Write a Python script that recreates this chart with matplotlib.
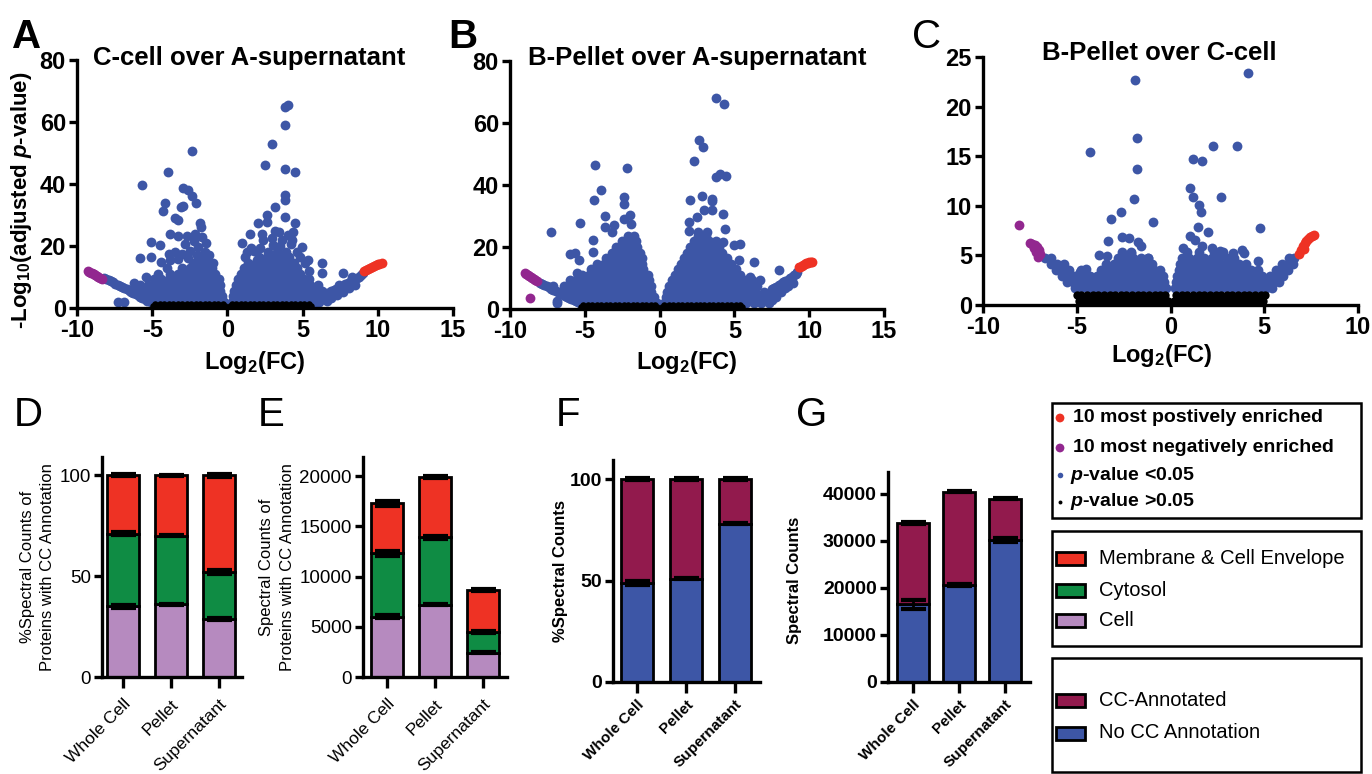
import matplotlib
matplotlib.use("Agg")
import numpy as np
import matplotlib.pyplot as plt
from matplotlib.patches import Rectangle

plt.rcParams['font.family'] = ['Liberation Sans', 'DejaVu Sans']
plt.rcParams['mathtext.fontset'] = 'custom'
plt.rcParams['mathtext.rm'] = 'Liberation Sans:bold'
plt.rcParams['mathtext.it'] = 'Liberation Sans:italic:bold'
plt.rcParams['mathtext.bf'] = 'Liberation Sans:bold'
plt.rcParams['axes.unicode_minus'] = False

BLUE = "#3d56a6"
RED = "#ee3224"
PURPLE = "#92278f"
GREEN = "#0f8c44"
LAV = "#b68abf"
MAROON = "#921a4d"

# ---------------- volcano data ----------------
# dense part of the clouds, stored as rows: (y, [x, ...])
a_rows = [
    (2.0, [-7.3, -6.9, -5.1, -4.6, -4.1, -3.6, -3.1, -2.6, -2.1, -1.6, -1.1, -0.6, -0.2,
           0.3, 0.8, 1.3, 1.8, 2.3, 2.8, 3.3, 3.8, 4.3, 4.8, 5.3, 5.8, 6.1]),
    (3.8, [-5.7, -5.3, -4.8, -4.3, -3.8, -3.3, -2.8, -2.3, -1.8, -1.3, -0.8, -0.35,
           0.35, 0.6, 1.05, 1.55, 2.05, 2.55, 3.05, 3.55, 4.05, 4.55, 5.05, 5.55, 6.05, 6.5]),
    (5.6, [-6.5, -6.0, -5.5, -5.0, -4.5, -4.0, -3.5, -3.0, -2.5, -2.0, -1.5, -1.0, -0.5,
           0.45, 0.8, 1.3, 1.8, 2.3, 2.8, 3.3, 3.8, 4.3, 4.8, 5.3, 5.8, 6.3, 6.9]),
    (7.4, [-5.8, -5.3, -4.8, -4.3, -3.8, -3.3, -2.8, -2.3, -1.8, -1.3, -0.8, -0.5,
           0.55, 1.0, 1.5, 2.0, 2.5, 3.0, 3.5, 4.0, 4.5, 5.0, 5.5, 6.0, 7.4, 7.9]),
    (9.2, [-4.9, -4.4, -3.9, -3.4, -2.9, -2.4, -1.9, -1.4, -0.9, -0.55,
           0.7, 1.1, 1.6, 2.1, 2.6, 3.1, 3.6, 4.1, 4.6, 5.1, 5.4, 8.3]),
    (11.0, [-3.8, -3.3, -2.8, -2.3, -1.8, -1.3, -0.8,
            0.9, 1.3, 1.8, 2.3, 2.8, 3.3, 3.8, 4.3, 4.8]),
    (12.8, [-3.0, -2.5, -2.0, -1.5, -1.0, 1.1, 1.6, 2.1, 2.6, 3.1, 3.6, 4.1, 4.6]),
    (14.6, [-2.3, -1.8, -1.3, -0.95, 1.4, 1.9, 2.4, 2.9, 3.4, 3.9, 4.4]),
    (16.4, [-1.9, -1.4, 2.1, 2.6, 3.1, 3.6, 4.1]),
    (18.2, [2.7, 3.3, 3.9]),
]
a_sparse_x = [3.83, 4.03, 3.83, 2.94, -2.38, 2.5, 3.83, 4.5, -3.95, -5.7, -2.95, -2.62, -2.38,
              -2.11, 3.83, 3.83, -4.15, -4.3, -2.95, -3.1, 3.17, 2.6, -3.48, -3.3, 2.05, 2.6,
              -1.82, -1.76, 3.83, 4.5, -3.8, -3.28, -2.7, -2.15, 2.28, 3.17, 4.36, -5.08, -4.48,
              1.6, 2.4, 2.94, 3.6, 4.3, 4.94, -1.96, -5.8, -5.08, 6.27, 6.27, 5.38, 5.16, 7.7, 8.3,
              -3.5, -3.0, -2.5, -1.5, -1.2, -2.8, -3.3, -4.0, -4.6, -5.4, -6.2, -2.2, -1.4, -4.4,
              -3.8, 1.2, 1.8, 4.6, 5.4, 1.0, 1.5, 3.0, 3.4, 4.0, 2.0, 4.8,
              -2.6, -2.0, -3.9, 2.2, 3.5, 4.2, -1.7, 1.3,
              -8.2, -8.05, -7.9, -7.75, -7.6, -7.45, -7.3, -7.15, -7.0, -6.85, -6.7, -6.55, -6.4,
              -6.25, -6.1, -5.95, -5.8, -5.65, -5.5, -5.35,
              6.5, 6.65, 6.8, 6.95, 7.1, 7.25, 7.4, 7.55, 7.7, 7.85, 8.0, 8.15, 8.3, 8.45, 8.6,
              8.75, 8.85, 9.0, 6.9, 7.3, 7.7, 8.1, 8.5, 6.6]
a_sparse_y = [64.8, 65.5, 59, 53, 50.6, 46, 45, 44, 44, 39.7, 38.8, 38, 36,
              33.9, 36.5, 35, 33.9, 31.4, 33, 32.5, 32.7, 30, 29, 28.4, 27.4, 27.8,
              27.4, 26.2, 29.5, 27.4, 24, 23.3, 23.3, 24, 24, 25, 24.6, 21.3, 20.3,
              19.3, 21.9, 22.6, 21.9, 21.9, 19.8, 19.8, 16, 16.6, 14.4, 11.3, 15.5, 14.5, 11.3, 10.0,
              18, 17.5, 18.5, 18, 17.2, 20.5, 15.8, 13, 11, 10, 8, 21.5, 21, 15,
              15.5, 16.5, 18.5, 18, 12, 21, 24, 20.2, 24.5, 23.5, 15.5, 16.5,
              16.0, 17.0, 17.5, 19.5, 20.0, 20.5, 23.0, 18.0,
              9.8, 9.4, 9.1, 8.7, 8.3, 7.9, 7.5, 7.2, 6.8, 6.4, 6.0, 5.7, 5.3,
              4.9, 4.5, 4.1, 3.6, 3.2, 2.8, 2.4,
              4.4, 4.7, 5.0, 5.3, 5.7, 6.0, 6.4, 6.8, 7.2, 7.6, 8.0, 8.4, 8.8, 9.3, 9.7,
              10.1, 10.5, 11.2, 3.3, 4.3, 5.3, 6.4, 7.5, 2.2]
a_neg_x = [-9.3, -9.2, -9.1, -9.0, -8.9, -8.8, -8.7, -8.6, -8.45, -8.35]
a_neg_y = [11.9, 11.7, 11.4, 11.2, 10.9, 10.6, 10.3, 10.1, 9.8, 9.5]
a_pos_x = [9.05, 9.2, 9.35, 9.5, 9.6, 9.75, 9.85, 10.0, 10.1, 10.25]
a_pos_y = [11.8, 12.2, 12.6, 12.9, 13.2, 13.5, 13.8, 14.1, 14.3, 14.5]
a_ns_rows = [
    (0.6, [-4.95, -4.65, -4.35, -4.05, -3.75, -3.45, -3.15, -2.85, -2.55, -2.25, -1.95, -1.65,
           -1.35, -1.05, -0.75, -0.45, -0.15, 0.15, 0.45, 0.75, 1.05, 1.35, 1.65, 1.95, 2.25,
           2.55, 2.85, 3.15, 3.45, 3.75, 4.05, 4.35, 4.65, 4.95, 5.25, 5.55]),
    (1.3, [-4.8, -4.5, -4.2, -3.9, -3.6, -3.3, -3.0, -2.7, -2.4, -2.1, -1.8, -1.5, -1.2, -0.9,
           -0.6, -0.3, 0.3, 0.6, 0.9, 1.2, 1.5, 1.8, 2.1, 2.4, 2.7, 3.0, 3.3, 3.6, 3.9, 4.2,
           4.5, 4.8, 5.1, 5.4]),
]

b_rows = [
    (2.0, [-6.87, -5.0, -4.5, -4.0, -3.5, -3.0, -2.5, -2.0, -1.5, -1.0, -0.5, -0.15,
           0.3, 0.8, 1.3, 1.8, 2.3, 2.8, 3.3, 3.8, 4.3, 4.8, 5.3, 5.8, 6.3, 6.8, 7.3]),
    (3.8, [-5.8, -5.4, -4.9, -4.4, -3.9, -3.4, -2.9, -2.4, -1.9, -1.4, -0.9, -0.4,
           0.4, 0.65, 1.1, 1.6, 2.1, 2.6, 3.1, 3.6, 4.1, 4.6, 5.1, 5.6, 6.1, 6.6, 7.1, 7.8]),
    (5.6, [-6.5, -6.1, -5.6, -5.1, -4.6, -4.1, -3.6, -3.1, -2.6, -2.1, -1.6, -1.1, -0.6,
           0.5, 0.9, 1.4, 1.9, 2.4, 2.9, 3.4, 3.9, 4.4, 4.9, 5.4, 5.9, 6.4, 7.0, 8.1]),
    (7.4, [-7.1, -6.4, -5.9, -5.4, -4.9, -4.4, -3.9, -3.4, -2.9, -2.4, -1.9, -1.4, -0.9, -0.55,
           0.6, 1.0, 1.5, 2.0, 2.5, 3.0, 3.5, 4.0, 4.5, 5.0, 5.5, 6.0, 6.5, 8.2, 8.6]),
    (9.2, [-6.0, -5.6, -5.1, -4.6, -4.1, -3.6, -3.1, -2.6, -2.1, -1.6, -1.1, -0.7,
           0.85, 1.2, 1.7, 2.2, 2.7, 3.2, 3.7, 4.2, 4.7, 5.2, 5.7, 6.2]),
    (11.0, [-5.2, -4.7, -4.2, -3.7, -3.2, -2.7, -2.2, -1.7, -1.2, -0.8,
            1.05, 1.4, 1.9, 2.4, 2.9, 3.4, 3.9, 4.4, 4.9, 5.4]),
    (12.8, [-4.6, -4.1, -3.6, -3.1, -2.6, -2.1, -1.6, -1.1,
            1.2, 1.6, 2.1, 2.6, 3.1, 3.6, 4.1, 4.6, 5.1]),
    (14.6, [-4.2, -3.7, -3.2, -2.7, -2.2, -1.7, -1.2, 1.4, 1.8, 2.3, 2.8, 3.3, 3.8, 4.3, 4.8]),
    (16.4, [-3.6, -3.1, -2.6, -2.1, -1.6, -1.2, 1.6, 2.0, 2.5, 3.0, 3.5, 4.0, 4.5]),
    (18.2, [-3.2, -2.7, -2.2, -1.7, -1.3, 1.8, 2.2, 2.7, 3.2, 3.7, 4.2]),
    (20.0, [-2.9, -2.4, -1.9, -1.5, 2.0, 2.5, 3.0, 3.5, 4.0]),
    (21.8, [-2.5, -2.0, -1.6, 2.3, 2.8, 3.3, 3.8]),
    (23.6, [-2.1, -1.7, 2.6, 3.1]),
]
b_sparse_x = [3.78, 4.33, 2.66, 2.9, 2.32, -4.31, -2.19, 3.78, 4.45, 4.07, -3.9, -4.4, -2.41,
              -2.41, 2.06, 2.84, 3.51, 3.51, -3.68, -2.41, -1.96, -1.9, -5.31, -7.25, -3.68, -3.08,
              -3.19, 1.94, 2.5, 2.95, 3.51, 4.22, 4.4, 1.94, 2.6, 3.2, -4.42, 4.22, 4.96, 5.4,
              -5.98, -5.65, -5.42, -4.42, 6.3, 5.29, -5.53, -6.87,
              -8.0, -7.85, -7.7, -7.55, -7.4, -7.25, -7.1, -6.95, -6.8, -6.65, -6.5, -6.35,
              -6.2, -6.05, -5.9, -5.75, -5.6, -5.45, -5.3,
              7.5, 7.65, 7.8, 7.95, 8.1, 8.25, 8.4, 8.55, 8.7, 8.85, 9.0, 9.1, 9.2,
              7.4, 7.9, 8.4, 8.9, 7.5, 6.74, 7.97, 6.07]
b_sparse_y = [68.1, 66.1, 54.6, 52.2, 47.9, 46.3, 45.4, 42.5, 42.8, 43.6, 38.5, 35.3, 36.1,
              34.0, 35.3, 36.3, 35.6, 34.8, 29.9, 28.9, 30.2, 27.5, 27.9, 24.9, 26.5, 27,
              24.9, 28.1, 29.7, 31.8, 31.8, 30.5, 25.9, 25.2, 24.7, 24.7, 22.2, 21.6, 20.6, 20.9,
              17.7, 18.1, 15.8, 18.5, 15.2, 15.8, 11.5, 2.7,
              8.5, 8.1, 7.8, 7.4, 7.0, 6.6, 6.2, 5.9, 5.5, 5.1, 4.7, 4.3,
              3.9, 3.6, 3.2, 2.8, 2.5, 2.1, 1.8,
              6.3, 6.8, 7.2, 7.7, 8.1, 8.6, 9.0, 9.5, 9.9, 10.4, 10.9, 11.3, 11.8,
              4.6, 5.6, 6.9, 8.5, 2.9, 9.3, 12.5, 10.4]
b_neg_x = [-9.0, -8.9, -8.8, -8.7, -8.6, -8.5, -8.4, -8.3, -8.2, -8.66]
b_neg_y = [11.5, 11.2, 11.0, 10.7, 10.4, 10.1, 9.8, 9.4, 9.1, 3.5]
b_pos_x = [9.3, 9.4, 9.5, 9.6, 9.7, 9.8, 9.9, 10.0, 10.1, 10.2]
b_pos_y = [13.4, 13.7, 14.0, 14.3, 14.5, 14.7, 14.9, 15.1, 15.2, 15.3]
b_ns_rows = [
    (0.6, [-5.25, -4.95, -4.65, -4.35, -4.05, -3.75, -3.45, -3.15, -2.85, -2.55, -2.25, -1.95,
           -1.65, -1.35, -1.05, -0.75, -0.45, -0.15, 0.15, 0.45, 0.75, 1.05, 1.35, 1.65, 1.95,
           2.25, 2.55, 2.85, 3.15, 3.45, 3.75, 4.05, 4.35, 4.65, 4.95, 5.25, 5.5]),
    (1.3, [-5.1, -4.8, -4.5, -4.2, -3.9, -3.6, -3.3, -3.0, -2.7, -2.4, -2.1, -1.8, -1.5, -1.2,
           -0.9, -0.6, -0.3, 0.3, 0.6, 0.9, 1.2, 1.5, 1.8, 2.1, 2.4, 2.7, 3.0, 3.3, 3.6, 3.9,
           4.2, 4.5, 4.8, 5.1, 5.4]),
]

c_rows = [
    (1.7, [-5.1, -4.75, -4.4, -4.05, -3.7, -3.35, -3.0, -2.65, -2.3, -1.95, -1.6, -1.25, -0.9,
           -0.55, -0.25, 0.25, 0.55, 0.9, 1.25, 1.6, 1.95, 2.3, 2.65, 3.0, 3.35, 3.7, 4.05,
           4.4, 4.75, 5.1, 5.4]),
    (2.3, [-5.5, -5.2, -4.85, -4.5, -4.15, -3.8, -3.45, -3.1, -2.75, -2.4, -2.05, -1.7, -1.35,
           -1.0, -0.65, -0.35, 0.3, 0.6, 0.95, 1.3, 1.65, 2.0, 2.35, 2.7, 3.05, 3.4, 3.75, 4.1,
           4.45, 4.8, 5.15, 5.5, 5.8]),
    (2.9, [-5.8, -5.45, -5.1, -4.7, -4.3, -3.9, -3.5, -3.15, -2.8, -2.45, -2.1, -1.75, -1.4,
           -1.05, -0.7, -0.4, 0.35, 0.7, 1.05, 1.4, 1.75, 2.1, 2.45, 2.8, 3.15, 3.5, 3.85, 4.2,
           4.55, 4.9, 5.3, 5.7, 6.0]),
    (3.5, [-6.1, -5.75, -5.4, -4.8, -3.7, -3.3, -2.9, -2.5, -2.1, -1.7, -1.3, -0.9, -0.55,
           0.45, 0.8, 1.15, 1.5, 1.85, 2.2, 2.55, 2.9, 3.25, 3.6, 3.95, 4.3, 4.65, 5.6, 5.95, 6.25]),
    (4.1, [-6.4, -6.05, -5.7, -3.45, -3.0, -2.6, -2.2, -1.8, -1.4, -1.0,
           0.5, 0.85, 1.2, 1.55, 1.9, 2.25, 2.6, 2.95, 3.3, 3.65, 4.0, 5.95, 6.3, 6.55]),
    (4.7, [-6.7, -6.35, -2.8, -2.4, -2.0, -1.6, -1.2, 0.6, 1.0, 1.4, 1.8, 2.2, 2.6, 3.0, 3.4,
           6.3, 6.6]),
    (5.3, [-2.6, -2.1, 0.9, 1.5, 2.3, 2.8]),
]
c_sparse_x = [-4.29, -1.89, -1.8, -1.8, -1.93, -3.19, -2.66, -0.92, -3.35, -2.6, -2.24, -1.76,
              -1.6, -3.8, -3.4, -2.1, -1.2, -4.84, -4.5,
              4.12, 2.25, 3.53, 1.22, 1.66, 1.04, 1.18, 2.69, 1.54, 1.63, 4.77, 1.45, 2.02, 1.04,
              1.3, 0.68, 1.66, 2.2, 2.64, 3.35, 3.8, 4.68, 3.9]
c_sparse_y = [15.45, 22.7, 16.8, 13.7, 10.65, 8.67, 9.34, 8.4, 6.45, 6.9, 6.8, 6.4,
              5.9, 5.0, 4.9, 5.2, 4.7, 3.36, 3.6,
              23.4, 16.06, 16.06, 14.7, 14.5, 11.76, 10.9, 10.9, 10.1, 9.34, 7.73, 7.9, 7.4, 7.0,
              6.6, 5.7, 5.9, 5.7, 5.4, 5.2, 5.5, 4.4, 5.2]
c_neg_x = [-8.1, -7.5, -7.4, -7.25, -7.1, -7.0, -7.15, -6.95, -7.05, -7.3]
c_neg_y = [8.05, 6.2, 6.1, 6.0, 5.8, 5.5, 5.3, 5.1, 4.8, 5.7]
c_pos_x = [6.85, 6.95, 7.05, 7.15, 7.25, 7.35, 7.45, 7.55, 7.65, 7.1]
c_pos_y = [5.1, 5.5, 5.9, 6.2, 6.5, 6.7, 6.85, 7.0, 7.05, 5.6]
c_ns_rows = [
    (0.4, [-4.9, -4.6, -4.3, -4.0, -3.7, -3.4, -3.1, -2.8, -2.5, -2.2, -1.9, -1.6, -1.3, -1.0,
           -0.7, -0.4, -0.15, 0.2, 0.45, 0.75, 1.05, 1.35, 1.65, 1.95, 2.25, 2.55, 2.85, 3.15,
           3.45, 3.75, 4.05, 4.35, 4.65, 4.95]),
    (1.0, [-5.0, -4.75, -4.45, -4.15, -3.85, -3.55, -3.25, -2.95, -2.65, -2.35, -2.05, -1.75,
           -1.45, -1.15, -0.85, -0.55, -0.3, 0.3, 0.6, 0.9, 1.2, 1.5, 1.8, 2.1, 2.4, 2.7, 3.0,
           3.3, 3.6, 3.9, 4.2, 4.5, 4.8, 5.05]),
]

# ---------------- bar data ----------------
groups = ["Whole Cell", "Pellet", "Supernatant"]
d_cell = [35, 36, 28.5]
d_cytosol = [36, 34, 23.5]
d_membrane = [29, 30, 48]
d_err = [[0.6, 0.3, 0.5], [0.6, 0.3, 1.2], [0.4, 0.3, 0.8]]
e_cell = [6000, 7200, 2400]
e_cytosol = [6300, 6700, 2100]
e_membrane = [5000, 6000, 4200]
e_err = [[150, 60, 60], [250, 120, 80], [250, 80, 100]]
f_nocc = [49, 51, 78]
f_cc = [51, 49, 22]
f_err = [[1.0, 0.3, 0.3], [0.5, 0.3, 0.3]]
g_nocc = [16500, 20600, 30200]
g_cc = [17300, 19900, 8800]
g_err = [[1000, 150, 400], [250, 150, 100]]

W, H = 1372, 774
fig = plt.figure(figsize=(W / 100, H / 100), dpi=100)


def px_axes(l, r, t, b):
    return fig.add_axes([l / W, 1 - b / H, (r - l) / W, (b - t) / H])


def ftext(x, y, s, **kw):
    fig.text(x / W, 1 - y / H, s, **kw)


def flatten(rows):
    xs = [x for y, row in rows for x in row]
    ys = [y for y, row in rows for _ in row]
    return xs, ys


def style(ax, size, weight):
    for side in ["top", "right"]:
        ax.spines[side].set_visible(False)
    for side in ["left", "bottom"]:
        ax.spines[side].set_linewidth(2.4)
    ax.tick_params(direction="out", length=6, width=2.4, labelsize=size, pad=2)
    for lab in ax.get_xticklabels() + ax.get_yticklabels():
        lab.set_fontweight(weight)


def volcano(ax, rows, sx, sy, nx, ny, px, py, ns_rows, s_blue, s_ns):
    bx, by = flatten(rows)
    ax.scatter(bx + sx, by + sy, s=s_blue, color=BLUE, lw=0, clip_on=False, zorder=2)
    kx, ky = flatten(ns_rows)
    ax.scatter(kx, ky, s=s_ns, color="black", lw=0, clip_on=False, zorder=3)
    ax.scatter(nx, ny, s=s_blue, color=PURPLE, lw=0, clip_on=False, zorder=4)
    ax.scatter(px, py, s=s_blue, color=RED, lw=0, clip_on=False, zorder=4)


# ---------------- panel A ----------------
axA = px_axes(77, 453, 60, 308)
volcano(axA, a_rows, a_sparse_x, a_sparse_y, a_neg_x, a_neg_y, a_pos_x, a_pos_y, a_ns_rows, 50, 22)
axA.set_xlim(-10, 15)
axA.set_ylim(0, 80)
axA.set_xticks([-10, -5, 0, 5, 10, 15])
axA.set_yticks([0, 20, 40, 60, 80])
style(axA, 17, "bold")

# ---------------- panel B ----------------
axB = px_axes(510, 884, 61, 309)
volcano(axB, b_rows, b_sparse_x, b_sparse_y, b_neg_x, b_neg_y, b_pos_x, b_pos_y, b_ns_rows, 50, 22)
axB.set_xlim(-10, 15)
axB.set_ylim(0, 80)
axB.set_xticks([-10, -5, 0, 5, 10, 15])
axB.set_yticks([0, 20, 40, 60, 80])
style(axB, 17, "bold")

# ---------------- panel C ----------------
axC = px_axes(983, 1358, 57, 305)
volcano(axC, c_rows, c_sparse_x, c_sparse_y, c_neg_x, c_neg_y, c_pos_x, c_pos_y, c_ns_rows, 50, 36)
axC.set_xlim(-10, 10)
axC.set_ylim(0, 25)
axC.set_xticks([-10, -5, 0, 5, 10])
axC.set_yticks([0, 5, 10, 15, 20, 25])
style(axC, 17, "bold")

for x, y, t in [(93, 58, "C-cell over A-supernatant"), (528, 58, "B-Pellet over A-supernatant"),
                (1042, 53, "B-Pellet over C-cell")]:
    ftext(x, y, t, fontsize=18.5, fontweight="bold", va="center", ha="left")
for x, y in [(255, 362), (687, 362), (1162, 355)]:
    ftext(x, y, r"Log$_2$(FC)", fontsize=17, fontweight="bold", ha="center", va="center")
ftext(22, 200, r"-Log$_{10}$(adjusted $\it{p}$-value)", fontsize=16, fontweight="bold",
      rotation=90, ha="center", va="center")


# ---------------- stacked bars ----------------
def stacked(ax, layers, errs, colors, width):
    pos = np.arange(len(groups))
    bottom = np.zeros(len(groups))
    for vals, err, col in zip(layers, errs, colors):
        vals = np.array(vals, dtype=float)
        ax.bar(pos, vals, bottom=bottom, width=width, color=col, edgecolor="black",
               linewidth=2.0, zorder=2)
        top = bottom + vals
        ax.errorbar(pos, top, yerr=err, fmt="none", ecolor="black", elinewidth=2,
                    capsize=9, capthick=3, zorder=3)
        bottom = top
    ax.set_xticks(pos)


axD = px_axes(102, 242, 457, 677)
stacked(axD, [d_cell, d_cytosol, d_membrane], d_err, [LAV, GREEN, RED], 0.66)
axD.set_xlim(-0.44, 2.48)
axD.set_ylim(0, 109)
axD.set_yticks([0, 50, 100])
axD.set_xticklabels(groups, rotation=45, ha="right", rotation_mode="anchor")
style(axD, 13.5, "normal")
axD.tick_params(axis="x", length=8, pad=6, labelsize=12.5)

axE = px_axes(363, 507, 457, 677)
stacked(axE, [e_cell, e_cytosol, e_membrane], e_err, [LAV, GREEN, RED], 0.66)
axE.set_xlim(-0.5, 2.5)
axE.set_ylim(0, 21900)
axE.set_yticks([0, 5000, 10000, 15000, 20000])
axE.set_xticklabels(groups, rotation=45, ha="right", rotation_mode="anchor")
style(axE, 13.5, "normal")
axE.tick_params(axis="x", length=8, pad=6, labelsize=12.5)

axF = px_axes(613, 760, 460, 682)
stacked(axF, [f_nocc, f_cc], f_err, [BLUE, MAROON], 0.66)
axF.set_xlim(-0.49, 2.51)
axF.set_ylim(0, 109.4)
axF.set_yticks([0, 50, 100])
axF.set_xticklabels(groups, rotation=45, ha="right", rotation_mode="anchor")
style(axF, 14, "bold")
axF.tick_params(axis="x", length=8, pad=3, labelsize=11)

axG = px_axes(888, 1030, 472, 682)
stacked(axG, [g_nocc, g_cc], g_err, [BLUE, MAROON], 0.68)
axG.set_xlim(-0.54, 2.54)
axG.set_ylim(0, 44680)
axG.set_yticks([0, 10000, 20000, 30000, 40000])
axG.set_xticklabels(groups, rotation=45, ha="right", rotation_mode="anchor")
style(axG, 14, "bold")
axG.tick_params(axis="x", length=8, pad=3, labelsize=11)

ftext(28, 567, "%Spectral Counts of", fontsize=12, rotation=90, ha="center", va="center")
ftext(48, 567, "Proteins with CC Annotation", fontsize=12, rotation=90, ha="center", va="center")
ftext(267, 567, "Spectral Counts of", fontsize=12, rotation=90, ha="center", va="center")
ftext(287, 567, "Proteins with CC Annotation", fontsize=12, rotation=90, ha="center", va="center")
ftext(560, 571, "%Spectral Counts", fontsize=12, fontweight="bold", rotation=90,
      ha="center", va="center")
ftext(794, 580, "Spectral Counts", fontsize=12, fontweight="bold", rotation=90,
      ha="center", va="center")

# panel letters
for x, y, t, w in [(12, 18, "A", "bold"), (448, 18, "B", "bold"), (912, 18, "C", "normal"),
                   (14, 396, "D", "normal"), (258, 396, "E", "normal"),
                   (556, 396, "F", "normal"), (796, 396, "G", "normal")]:
    ftext(x, y, t, fontsize=29, fontweight=w, ha="left", va="top")

# ---------------- legend boxes ----------------
lg = px_axes(1040, 1372, 390, 774)
lg.set_xlim(1040, 1372)
lg.set_ylim(774, 390)
lg.axis("off")
for top, bot in [(403, 518), (531, 646), (658, 772)]:
    lg.add_patch(Rectangle((1052, top), 309, bot - top, fill=False, edgecolor="black", lw=1.8))

lg.scatter([1060, 1060], [418, 448], s=40, color=[RED, PURPLE], lw=0)
lg.scatter([1060], [475], s=16, color=BLUE, lw=0)
lg.scatter([1060], [502], s=8, color="black", lw=0)
lg.text(1073, 418, "10 most postively enriched", fontsize=14, fontweight="bold", va="center")
lg.text(1073, 448, "10 most negatively enriched", fontsize=14, fontweight="bold", va="center")
lg.text(1070, 475, r"$\it{p}$-value <0.05", fontsize=14, fontweight="bold", va="center")
lg.text(1070, 502, r"$\it{p}$-value >0.05", fontsize=14, fontweight="bold", va="center")

for y, col, lab in [(558, RED, "Membrane & Cell Envelope"), (590, GREEN, "Cytosol"),
                    (620, LAV, "Cell"), (700, MAROON, "CC-Annotated"),
                    (733, BLUE, "No CC Annotation")]:
    lg.add_patch(Rectangle((1056, y - 6.5), 29, 13, facecolor=col, edgecolor="black", lw=2))
    lg.text(1099, y, lab, fontsize=14.5, va="center")

fig.savefig("out.png", dpi=100)
